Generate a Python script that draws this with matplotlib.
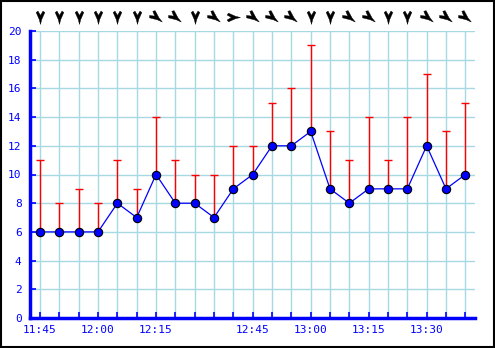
import numpy as np
import matplotlib
matplotlib.use("Agg")
import matplotlib.pyplot as plt
from matplotlib.path import Path
from matplotlib.transforms import blended_transform_factory

# ---- data ----
avg_speed = [6, 6, 6, 6, 8, 7, 10, 8, 8, 7, 9, 10, 12, 12, 13, 9, 8, 9, 9, 9, 12, 9, 10]
gust_speed = [11, 8, 9, 8, 11, 9, 14, 11, 10, 10, 12, 12, 15, 16, 19, 13, 11, 14, 11, 14, 17, 13, 15]
# direction the arrow points, degrees (0 = east, -90 = down)
arrow_angle = [-90, -90, -90, -90, -90, -90, -38, -38, -90, -38, 0, -38,
               -38, -38, -90, -90, -38, -38, -90, -90, -38, -38, -38]
x_labels = ["11:45", "", "", "12:00", "", "", "12:15", "", "", "", "", "12:45",
            "", "", "13:00", "", "", "13:15", "", "", "13:30", "", ""]
y_ticks = list(range(0, 21, 2))

BLUE = "#0000ff"
GRID = "#a6d9e2"

fig = plt.figure(figsize=(4.95, 3.48), dpi=100)
fig.patch.set_facecolor("white")
# outer frame
fig.add_artist(plt.Rectangle((0.002, 0.003), 0.995, 0.993, transform=fig.transFigure,
                             fill=False, edgecolor="black", linewidth=1.5))

ax = fig.add_axes([30 / 495, 30 / 348, 445 / 495, 287 / 348])
x = np.arange(len(avg_speed))

ax.set_xlim(-0.52, 22.5)
ax.set_ylim(0, 20)

ax.set_xticks(x)
ax.set_xticklabels(x_labels)
ax.set_yticks(y_ticks)
ax.grid(True, color=GRID, linewidth=1.0)
ax.set_axisbelow(True)

for s in ["top", "right"]:
    ax.spines[s].set_visible(False)
for s in ["left", "bottom"]:
    ax.spines[s].set_color(BLUE)
    ax.spines[s].set_linewidth(2.5)

ax.tick_params(axis="both", direction="in", color=BLUE, length=4, width=1.2,
               labelcolor=BLUE, labelsize=8)
ax.tick_params(axis="y", pad=6)
ax.tick_params(axis="x", pad=5)
for lab in ax.get_xticklabels() + ax.get_yticklabels():
    lab.set_family("DejaVu Sans Mono")

# gust whiskers
up = np.array(gust_speed) - np.array(avg_speed)
ax.errorbar(x, avg_speed, yerr=[np.zeros_like(up), up], fmt="none",
            ecolor="#ff0000", elinewidth=1.0, capsize=3, capthick=1.0, zorder=3)

# average line
ax.plot(x, avg_speed, color=BLUE, linewidth=0.9, marker="o", markersize=6,
        markerfacecolor=BLUE, markeredgecolor="black", markeredgewidth=0.8, zorder=4)

# wind direction arrows (chevron tail with stem pointing in travel direction)
base = np.array([[0, -1], [0.17, -0.3], [0.62, 0.72], [0.36, 0.92], [0, 0.3],
                 [-0.36, 0.92], [-0.62, 0.72], [-0.17, -0.3], [0, -1]])
trans = blended_transform_factory(ax.transData, ax.transAxes)
for xi, ang in zip(x, arrow_angle):
    theta = np.deg2rad(ang + 90)
    rot = np.array([[np.cos(theta), -np.sin(theta)], [np.sin(theta), np.cos(theta)]])
    verts = base @ rot.T
    codes = [Path.MOVETO] + [Path.LINETO] * (len(verts) - 2) + [Path.CLOSEPOLY]
    ax.plot([xi], [1.049], marker=Path(verts, codes), markersize=10, color="black",
            markeredgewidth=0.3, markeredgecolor="black", transform=trans,
            clip_on=False, linestyle="none")

fig.savefig("out.png", dpi=100)
